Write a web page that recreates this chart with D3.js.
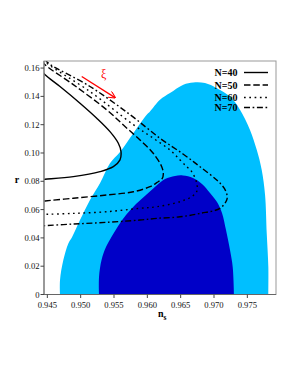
<!DOCTYPE html>
<html><head><meta charset="utf-8">
<script src="https://cdn.jsdelivr.net/npm/d3@7"></script>
<style>body{margin:0;background:#fff}svg{display:block}</style>
</head><body>
<svg id="c" width="298" height="385"></svg>
<script>
const xTicks=[0.945,0.950,0.955,0.960,0.965,0.970,0.975];
const xTickLabels=["0.945","0.950","0.955","0.960","0.965","0.970","0.975"];
const yTicks=[0,0.02,0.04,0.06,0.08,0.10,0.12,0.14,0.16];
const yTickLabels=["0","0.02","0.04","0.06","0.08","0.10","0.12","0.14","0.16"];
const seriesNames=["N=40","N=50","N=60","N=70"];
const n40=[[0.94420,0.1580],[0.94466,0.1553],[0.94690,0.1470],[0.94990,0.1352],[0.95241,0.1246],[0.95440,0.1151],[0.95565,0.1069],[0.95605,0.1010],[0.95590,0.0951],[0.95490,0.0903],[0.95290,0.0868],[0.94890,0.0833],[0.94466,0.0814],[0.94400,0.0811]];
const n50=[[0.94420,0.1650],[0.94466,0.1623],[0.94890,0.1483],[0.95391,0.1305],[0.95665,0.1187],[0.95890,0.1092],[0.96085,0.1000],[0.96216,0.0903],[0.96240,0.0852],[0.96221,0.0818],[0.96141,0.0790],[0.96040,0.0762],[0.95790,0.0726],[0.95391,0.0703],[0.94890,0.0680],[0.94466,0.0661],[0.94400,0.0658]];
const n60=[[0.94440,0.1662],[0.94491,0.1635],[0.95140,0.1434],[0.95790,0.1200],[0.96090,0.1104],[0.96340,0.1021],[0.96490,0.0951],[0.96591,0.0903],[0.96666,0.0868],[0.96741,0.0787],[0.96741,0.0728],[0.96666,0.0692],[0.96490,0.0656],[0.96141,0.0620],[0.95890,0.0609],[0.95391,0.0585],[0.94890,0.0573],[0.94450,0.0566],[0.94400,0.0565]];
const n70=[[0.94460,0.1665],[0.94515,0.1635],[0.95140,0.1470],[0.95740,0.1271],[0.96190,0.1104],[0.96535,0.0993],[0.96790,0.0903],[0.97041,0.0809],[0.97150,0.0753],[0.97195,0.0703],[0.97191,0.0668],[0.97090,0.0609],[0.96790,0.0573],[0.96490,0.0549],[0.96141,0.0538],[0.95890,0.0526],[0.95391,0.0510],[0.94890,0.0498],[0.94450,0.0486],[0.94400,0.0485]];
const region95=[[0.94690,0],[0.94690,0.0101],[0.94740,0.0243],[0.94815,0.0361],[0.94870,0.0405],[0.94990,0.0526],[0.95140,0.0668],[0.95290,0.0786],[0.95440,0.0927],[0.95590,0.1007],[0.95790,0.1140],[0.95991,0.1270],[0.96040,0.1293],[0.96190,0.1376],[0.96340,0.1423],[0.96540,0.1482],[0.96690,0.1498],[0.96865,0.1494],[0.97041,0.1458],[0.97240,0.1399],[0.97390,0.1305],[0.97540,0.1163],[0.97641,0.1022],[0.97716,0.0880],[0.97766,0.0703],[0.97791,0.0432],[0.97815,0.0195],[0.97815,0]];
const region68=[[0.95275,0],[0.95275,0.0122],[0.95313,0.0243],[0.95380,0.0335],[0.95470,0.0413],[0.95560,0.0483],[0.95680,0.0561],[0.95830,0.0639],[0.95980,0.0703],[0.96130,0.0767],[0.96265,0.0816],[0.96415,0.0838],[0.96535,0.0841],[0.96685,0.0823],[0.96820,0.0781],[0.96940,0.0717],[0.97045,0.0653],[0.97120,0.0576],[0.97180,0.0455],[0.97240,0.0314],[0.97281,0.0193],[0.97300,0]];
const arrowFrom=[0.95016,0.1541], arrowTo=[0.95515,0.1391], xiPos=[0.95345,0.1531];

const L=44,R=276,T=61,B=294.5;
const x=d3.scaleLinear().domain([0.9445,0.9793]).range([L,R]);
const y=d3.scaleLinear().domain([0,0.165]).range([B,T]);
const svg=d3.select("#c");
const serif="'Liberation Serif','Times New Roman',serif";
svg.append("defs").append("clipPath").attr("id","clip").append("rect").attr("x",L).attr("y",T).attr("width",R-L).attr("height",B-T+0.5);
const g=svg.append("g").attr("clip-path","url(#clip)");
const bline=d3.line().x(d=>x(d[0])).y(d=>y(d[1])).curve(d3.curveCatmullRom.alpha(0.5));
g.append("path").attr("d",bline(region95)+"Z").attr("fill","#00bfff");
g.append("path").attr("d",bline(region68)+"Z").attr("fill","#0000c8");
const styles=[null,"6.5,2.8","1.7,3.6","6,2.6,1.7,2.6"];
[n40,n50,n60,n70].forEach((s,i)=>{
  g.append("path").attr("d",bline(s)).attr("fill","none").attr("stroke","#000").attr("stroke-width",1.4)
   .attr("stroke-dasharray",styles[i]);
});
// frame
svg.append("rect").attr("x",L).attr("y",T).attr("width",R-L).attr("height",B-T).attr("fill","none").attr("stroke","#999").attr("stroke-width",1);
svg.append("line").attr("x1",L).attr("x2",L).attr("y1",T).attr("y2",B+0.5).attr("stroke","#666");
svg.append("line").attr("x1",L).attr("x2",R).attr("y1",B).attr("y2",B).attr("stroke","#666");
// axes ticks
xTicks.forEach((t,i)=>{
  svg.append("line").attr("x1",x(t)).attr("x2",x(t)).attr("y1",B).attr("y2",B+3.5).attr("stroke","#444");
  svg.append("text").attr("x",x(t)).attr("y",B+13).attr("text-anchor","middle").attr("font-family",serif).attr("font-size",8.6).attr("fill","#111").text(xTickLabels[i]);
});
yTicks.forEach((t,i)=>{
  svg.append("line").attr("x1",L-3.5).attr("x2",L).attr("y1",y(t)).attr("y2",y(t)).attr("stroke","#444");
  svg.append("text").attr("x",L-4.5).attr("y",y(t)+3).attr("text-anchor","end").attr("font-family",serif).attr("font-size",8.6).attr("fill","#111").text(yTickLabels[i]);
});
svg.append("text").attr("x",17).attr("y",183).attr("text-anchor","middle").attr("font-family",serif).attr("font-weight","bold").attr("font-size",10).text("r");
const nl=svg.append("text").attr("x",158).attr("y",317).attr("font-family",serif).attr("font-weight","bold").attr("font-size",10);
nl.append("tspan").text("n");
nl.append("tspan").attr("font-size",7.5).attr("dy",3).text("s");
// arrow
svg.append("defs").append("marker").attr("id","ah").attr("viewBox","0 0 10 10").attr("refX",9).attr("refY",5)
  .attr("markerWidth",7).attr("markerHeight",7).attr("orient","auto").attr("markerUnits","userSpaceOnUse")
  .append("path").attr("d","M0,0L10,5L0,10").attr("fill","none").attr("stroke","#f00").attr("stroke-width",1.6);
svg.append("line").attr("x1",x(arrowFrom[0])).attr("y1",y(arrowFrom[1])).attr("x2",x(arrowTo[0])).attr("y2",y(arrowTo[1]))
  .attr("stroke","#f00").attr("stroke-width",1.3).attr("marker-end","url(#ah)");
svg.append("text").attr("x",x(xiPos[0])).attr("y",y(xiPos[1])).attr("text-anchor","middle").attr("font-family",serif).attr("font-size",12).attr("fill","#f00").text("ξ");
// legend
const legY=[72.5,85,97.5,107.5];
seriesNames.forEach((n,i)=>{
  svg.append("text").attr("x",237.5).attr("y",legY[i]+3.5).attr("text-anchor","end").attr("font-family",serif).attr("font-weight","bold").attr("font-size",10).text(n);
  svg.append("line").attr("x1",244).attr("x2",268).attr("y1",legY[i]).attr("y2",legY[i]).attr("stroke","#000").attr("stroke-width",1.4).attr("stroke-dasharray",styles[i]);
});
</script>
</body></html>
